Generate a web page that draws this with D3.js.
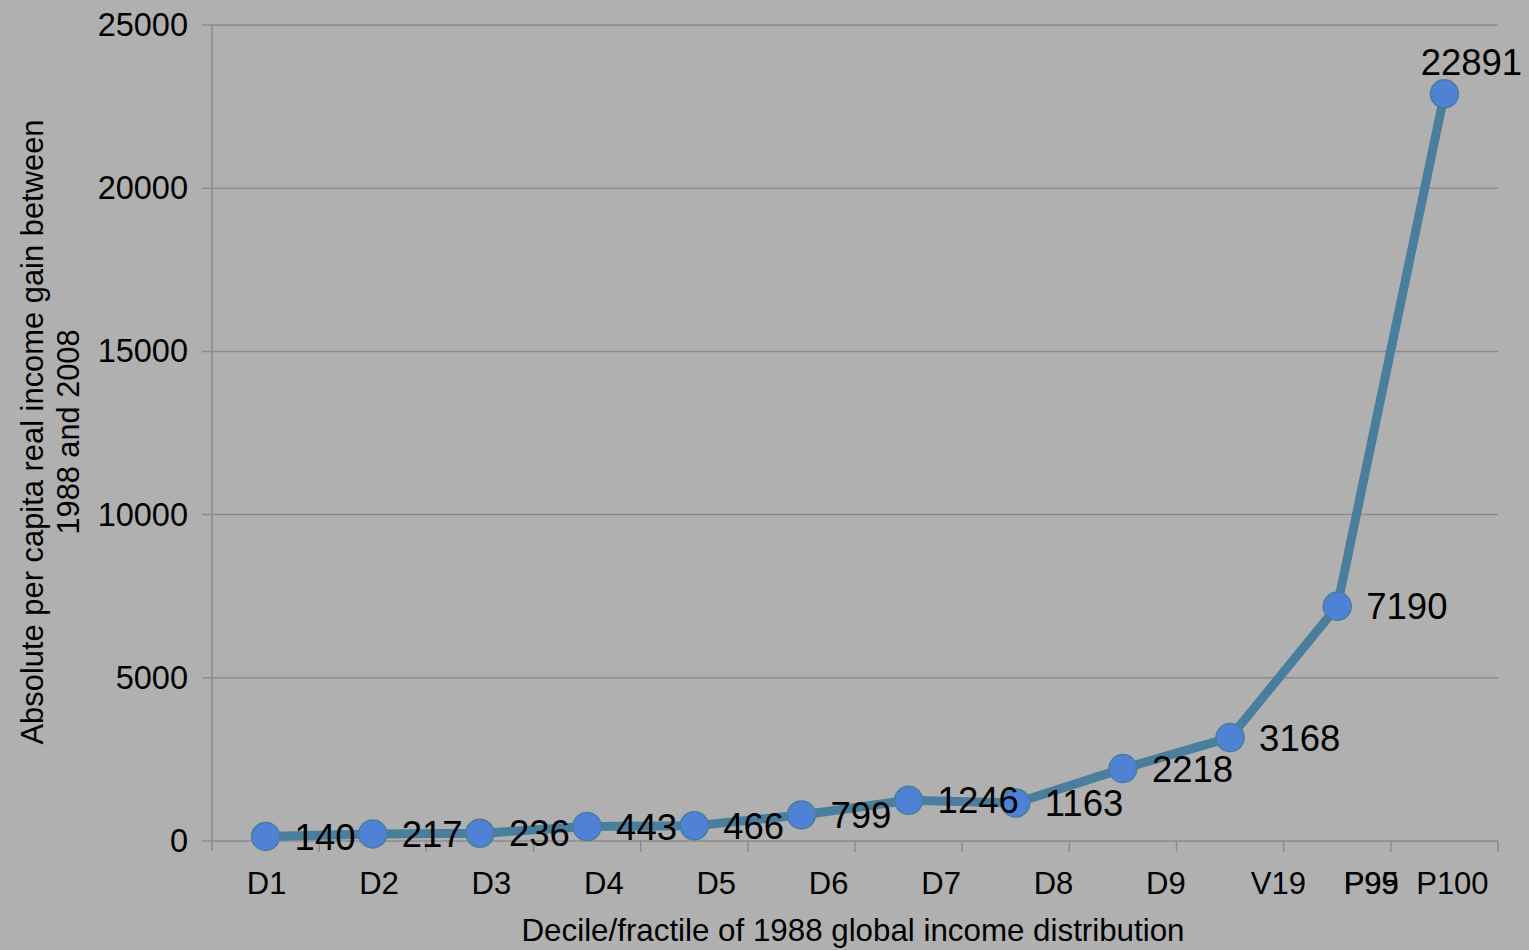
<!DOCTYPE html>
<html>
<head>
<meta charset="utf-8">
<script src="https://cdn.jsdelivr.net/npm/d3@7"></script>
<style>
  body { margin: 0; background: #b0b0b0; }
  svg { display: block; font-family: "Liberation Sans", Arial, sans-serif; }
  .grid line { stroke: #8c8c8c; stroke-width: 1.5; }
  .axis path, .axis line { stroke: #8c8c8c; stroke-width: 1.5; }
  .axis text { fill: #000; }
</style>
</head>
<body>
<div id="chart"></div>
<script>
// chart values
var categories = ["D1", "D2", "D3", "D4", "D5", "D6", "D7", "D8", "D9", "V19", "P95", "P100"];
var gains = [140, 217, 236, 443, 466, 799, 1246, 1163, 2218, 3168, 7190, 22891];
var tickLabels = ["D1", "D2", "D3", "D4", "D5", "D6", "D7", "D8", "D9", "V19", "P95", "P99", "P100"];
var yTicks = [0, 5000, 10000, 15000, 20000, 25000];
var yTitle = ["Absolute per capita real income gain between", "1988 and 2008"];
var xTitle = "Decile/fractile of 1988 global income distribution";

var W = 1529, H = 950;
var margin = {top: 25, right: 31, bottom: 109, left: 212};
var width = W - margin.left - margin.right;
var height = H - margin.top - margin.bottom;

var svg = d3.select('#chart').
  append('svg').
  attr('width', W).
  attr('height', H);

svg.append('rect').attr('width', W).attr('height', H).attr('fill', '#b0b0b0');

var g = svg.append('g').
  attr('transform', 'translate(' + margin.left + ',' + margin.top + ')');

var x = d3.scaleBand().domain(categories).range([0, width]);
var y = d3.scaleLinear().domain([0, 25000]).range([height, 0]);

// gridlines (with the outward tick stub on the left)
g.append('g').attr('class', 'grid').
  selectAll('line').
  data(yTicks).
  enter().append('line').
  attr('x1', -10).
  attr('x2', width).
  attr('y1', function(d) { return y(d); }).
  attr('y2', function(d) { return y(d); });

// y axis
var yAxis = d3.axisLeft(y).tickValues(yTicks).tickSize(0).tickPadding(24).tickFormat(d3.format('d'));
var ya = g.append('g').attr('class', 'axis').call(yAxis);
ya.select('.domain').remove();
ya.selectAll('text').style('font-size', '32.5px');
g.append('line').
  attr('x1', 0).attr('x2', 0).
  attr('y1', 0).attr('y2', height + 10).
  attr('stroke', '#8c8c8c').attr('stroke-width', 1.5);

// x axis boundary ticks
var bounds = d3.range(categories.length + 1).map(function(i) { return i * x.step(); });
g.append('g').attr('class', 'axis').
  selectAll('line').
  data(bounds.slice(1)).
  enter().append('line').
  attr('x1', function(d) { return d; }).
  attr('x2', function(d) { return d; }).
  attr('y1', height).
  attr('y2', height + 11);

// x tick labels (Excel spreads them a little wider than the points)
var labelStep = x.step() * 1.049;
function labelX(d, i) {
  if (i < 10) return x(categories[0]) + x.bandwidth() / 2 + 1 + i * labelStep;
  if (d == "P100") return x("P100") + x.bandwidth() / 2 + 8;
  return x("P95") + x.bandwidth() / 2 + 34;
}
g.append('g').
  selectAll('text').
  data(tickLabels).
  enter().append('text').
  attr('x', labelX).
  attr('y', height + 53).
  attr('text-anchor', 'middle').
  style('font-size', '31px').
  text(function(d) { return d; });

// line
var line = d3.line().
  x(function(d, i) { return x(categories[i]) + x.bandwidth() / 2; }).
  y(function(d) { return y(d); });

g.append('path').
  datum(gains).
  attr('d', line).
  attr('fill', 'none').
  attr('stroke', '#4a7e9d').
  attr('stroke-width', 9).
  attr('stroke-linejoin', 'round');

g.selectAll('.dot').
  data(gains).
  enter().append('circle').
  attr('class', 'dot').
  attr('cx', function(d, i) { return x(categories[i]) + x.bandwidth() / 2; }).
  attr('cy', function(d) { return y(d); }).
  attr('r', 14).
  attr('fill', '#4f81d4').
  attr('stroke', '#4a7e9d').
  attr('stroke-width', 1.5);

// data labels
var last = gains.length - 1;
g.selectAll('.lbl').
  data(gains).
  enter().append('text').
  attr('class', 'lbl').
  attr('x', function(d, i) {
    var cx = x(categories[i]) + x.bandwidth() / 2;
    return i == last ? cx + 27 : cx + 29;
  }).
  attr('y', function(d, i) { return i == last ? y(d) - 19 : y(d); }).
  attr('dy', function(d, i) { return i == last ? 0 : '0.36em'; }).
  attr('text-anchor', function(d, i) { return i == last ? 'middle' : 'start'; }).
  style('font-size', '36.5px').
  text(function(d) { return d; });

// axis titles
svg.append('text').
  attr('x', 853).
  attr('y', 941).
  attr('text-anchor', 'middle').
  attr('textLength', 663).
  attr('lengthAdjust', 'spacingAndGlyphs').
  style('font-size', '32px').
  text(xTitle);

svg.selectAll('.ytitle').
  data(yTitle).
  enter().append('text').
  attr('class', 'ytitle').
  attr('transform', function(d, i) { return 'translate(' + (43 + i * 36) + ',432) rotate(-90)'; }).
  attr('text-anchor', 'middle').
  attr('textLength', function(d, i) { return i == 0 ? 625 : 205; }).
  attr('lengthAdjust', 'spacingAndGlyphs').
  style('font-size', '32px').
  text(function(d) { return d; });
</script>
</body>
</html>
